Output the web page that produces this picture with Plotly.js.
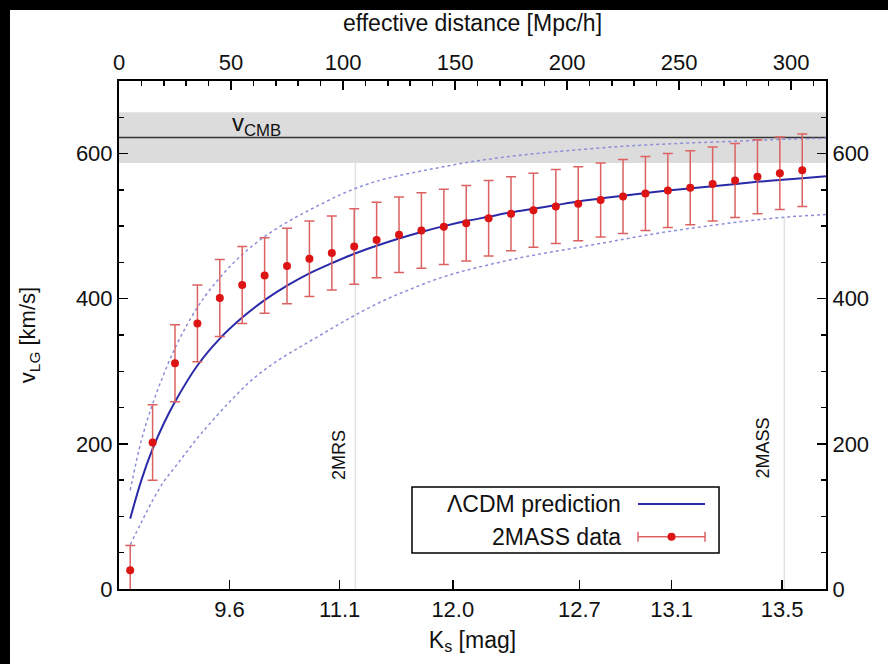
<!DOCTYPE html>
<html>
<head>
<meta charset="utf-8">
<script src="https://cdn.plot.ly/plotly-3.0.1.min.js"></script>
<style>
  html, body { margin: 0; padding: 0; background: #000; width: 888px; height: 664px; overflow: hidden; }
  #chart { position: absolute; left: 10px; top: 10px; width: 878px; height: 654px; background: #fff; }
</style>
</head>
<body>
<div id="chart"></div>
<script>
// ---- data (effective distance in Mpc/h on the x axis) ----
const distances = [5, 15, 25, 35, 45, 55, 65, 75, 85, 95, 105, 115, 125, 135, 145, 155,
                   165, 175, 185, 195, 205, 215, 225, 235, 245, 255, 265, 275, 285, 295, 305];
const vlg = [26, 202, 311, 366, 401, 419, 432, 445, 455, 463, 472, 481, 488, 494, 499, 504,
             511, 517, 522, 527, 531, 536, 541, 545, 549, 553, 558, 563, 568, 573, 577];
const vlgErr = [34, 52, 53, 53, 53, 53, 52, 52, 52, 51, 52, 52, 52, 52, 52, 52,
                52, 51, 51, 51, 51, 51, 51, 51, 51, 51, 51, 51, 51, 50, 50];

const modelDist = [5, 10, 15, 20, 25, 35, 45, 55, 65, 75, 85, 95, 105, 115, 125, 135, 145, 155,
                   165, 175, 185, 195, 205, 215, 225, 245, 265, 285, 305, 316];
const modelV = [97, 150, 193, 228, 258, 308, 345, 374, 398, 418, 435, 449, 462, 473, 483, 492, 500, 507,
                513, 519, 524, 529, 534, 538, 542, 549, 555, 561, 566, 569];

const upperDist = [5, 10, 15, 20, 25, 30, 35, 40, 50, 60, 70, 80, 90, 100, 110, 120, 140, 160,
                   180, 200, 225, 250, 275, 300, 316];
const upperV = [136, 205, 255, 296, 332, 362, 388, 410, 446, 474, 496, 514, 530, 545, 557, 566, 579, 590,
                598, 604, 610, 614, 617, 620, 621];

const lowerDist = [5, 10, 15, 20, 25, 30, 35, 40, 50, 60, 70, 80, 90, 100, 110, 120, 130, 140, 150, 160,
                   180, 200, 220, 240, 260, 280, 300, 316];
const lowerV = [61, 92, 122, 148, 168, 188, 208, 226, 260, 290, 313, 332, 350, 368, 385, 400, 413, 425, 435, 443,
                457, 468, 479, 490, 499, 507, 513, 516];

const ksTickLabels = ['9.6', '11.1', '12.0', '12.7', '13.1', '13.5'];
const ksTickDist = [49.3, 98.5, 149, 205.5, 246.7, 296];

const vCMB = 622;
const vCMBErr = 35;

const surveyNames = ['2MRS', '2MASS'];
const surveyDist = [105.5, 297];
const surveyLineTop = [587, 512];
const surveyLabelDist = [98.3, 287.6];
const surveyLabelV = [185, 194];

const legendLabels = ['\u039BCDM prediction', '2MASS data'];

// ---- colours ----
const cRed = '#dc1414';
const cErr = '#dc6262';
const cBlue = '#2a2aa8';
const cDot = '#8d8ed8';

const xRange = [0, 315.6];
const yRange = [0, 700];
const fnt = 'Liberation Sans, Arial, Helvetica, sans-serif';
const FS = 22;

const traces = [
  { x: upperDist, y: upperV, type: 'scatter', mode: 'lines', showlegend: false,
    line: { color: cDot, width: 1.5, dash: 'dot', shape: 'spline' }, hoverinfo: 'skip' },
  { x: lowerDist, y: lowerV, type: 'scatter', mode: 'lines', showlegend: false,
    line: { color: cDot, width: 1.5, dash: 'dot', shape: 'spline' }, hoverinfo: 'skip' },
  { x: modelDist, y: modelV, type: 'scatter', mode: 'lines', name: legendLabels[0], showlegend: false,
    line: { color: cBlue, width: 2, shape: 'spline' } },
  { x: distances, y: vlg, type: 'scatter', mode: 'markers', name: legendLabels[1], showlegend: false,
    marker: { color: cRed, size: 8 },
    error_y: { type: 'data', array: vlgErr, visible: true, color: cErr, thickness: 1.5, width: 5 } },
  { x: [], y: [], xaxis: 'x2', yaxis: 'y2', type: 'scatter', mode: 'markers', showlegend: false }
];

const axisCommon = {
  showline: true, linecolor: '#000', linewidth: 2, mirror: false,
  ticks: 'inside', ticklen: 9, tickwidth: 1.5, tickcolor: '#000',
  showgrid: false, zeroline: false,
  tickfont: { family: fnt, size: FS, color: '#111' }
};

// shapes: CMB band + line, survey limit lines
const shapes = [
  { type: 'rect', xref: 'x domain', yref: 'y', x0: 0, x1: 1, y0: vCMB - vCMBErr, y1: vCMB + vCMBErr,
    fillcolor: '#dcdcdc', line: { width: 0 }, layer: 'below' },
  { type: 'line', xref: 'x domain', yref: 'y', x0: 0, x1: 1, y0: vCMB, y1: vCMB,
    line: { color: '#333', width: 1.5 }, layer: 'below' }
];
surveyDist.forEach((d, i) => {
  shapes.push({ type: 'line', xref: 'x', yref: 'y', x0: d, x1: d, y0: 0, y1: surveyLineTop[i],
    line: { color: '#e2e2e2', width: 1.5 }, layer: 'below' });
});

// custom legend (text left, sample right, as in the original)
const lgX0 = 0.4144, lgX1 = 0.8487, lgY0 = 0.0709, lgY1 = 0.2008;
const row1 = 0.1673, row2 = 0.103;
const sX0 = 0.7341, sX1 = 0.8289, sMid = (sX0 + sX1) / 2;
shapes.push(
  { type: 'rect', xref: 'paper', yref: 'paper', x0: lgX0, x1: lgX1, y0: lgY0, y1: lgY1,
    fillcolor: '#fff', line: { color: '#000', width: 1.5 } },
  { type: 'line', xref: 'paper', yref: 'paper', x0: sX0, x1: sX1, y0: row1, y1: row1,
    line: { color: cBlue, width: 2 } },
  { type: 'line', xref: 'paper', yref: 'paper', x0: sX0, x1: sX1, y0: row2, y1: row2,
    line: { color: cErr, width: 1.5 } },
  { type: 'line', xref: 'paper', yref: 'paper', x0: sX0, x1: sX0, y0: row2 - 0.0098, y1: row2 + 0.0098,
    line: { color: cErr, width: 1.5 } },
  { type: 'line', xref: 'paper', yref: 'paper', x0: sX1, x1: sX1, y0: row2 - 0.0098, y1: row2 + 0.0098,
    line: { color: cErr, width: 1.5 } },
  { type: 'circle', xref: 'paper', yref: 'paper', x0: sMid - 0.0057, x1: sMid + 0.0057,
    y0: row2 - 0.0079, y1: row2 + 0.0079, fillcolor: cRed, line: { color: cRed, width: 0 } }
);

const annotations = [
  { xref: 'x', yref: 'y', x: 61.6, y: 640, yanchor: 'middle', text: 'v<sub>CMB</sub>', showarrow: false,
    font: { family: fnt, size: 24, color: '#111' } },
  { xref: 'paper', yref: 'paper', x: 0.7129, y: row1, xanchor: 'right', yanchor: 'middle',
    text: legendLabels[0], showarrow: false, font: { family: fnt, size: 23, color: '#111' } },
  { xref: 'paper', yref: 'paper', x: 0.7129, y: row2, xanchor: 'right', yanchor: 'middle',
    text: legendLabels[1], showarrow: false, font: { family: fnt, size: 23, color: '#111' } }
];
surveyNames.forEach((n, i) => {
  annotations.push({ xref: 'x', yref: 'y', x: surveyLabelDist[i], y: surveyLabelV[i], text: n,
    textangle: -90, showarrow: false, font: { family: fnt, size: 18, color: '#111' } });
});

const layout = {
  width: 878, height: 654,
  margin: { l: 109, r: 62, t: 71, b: 75 },
  paper_bgcolor: '#fff', plot_bgcolor: '#fff',
  font: { family: fnt, color: '#111' },
  showlegend: false,
  xaxis: Object.assign({}, axisCommon, {
    range: xRange, tickmode: 'array', tickvals: ksTickDist, ticktext: ksTickLabels,
    title: { text: 'K<sub>s</sub> [mag]', font: { family: fnt, size: 23, color: '#111' }, standoff: 10 }
  }),
  xaxis2: Object.assign({}, axisCommon, {
    overlaying: 'x', side: 'top', anchor: 'y2', range: xRange,
    tickmode: 'linear', tick0: 0, dtick: 50,
    minor: { dtick: 10, ticks: 'inside', ticklen: 5, tickwidth: 1.5, tickcolor: '#000' },
    title: { text: 'effective distance [Mpc/h]', font: { family: fnt, size: 23, color: '#111' }, standoff: 19 }
  }),
  yaxis: Object.assign({}, axisCommon, {
    range: yRange, tickmode: 'linear', tick0: 0, dtick: 200,
    minor: { dtick: 50, ticks: 'inside', ticklen: 5, tickwidth: 1.5, tickcolor: '#000' },
    title: { text: 'v<sub>LG</sub> [km/s]', font: { family: fnt, size: 22, color: '#111' }, standoff: 34 }
  }),
  yaxis2: Object.assign({}, axisCommon, {
    overlaying: 'y', side: 'right', anchor: 'x2', range: yRange, tickmode: 'linear', tick0: 0, dtick: 200,
    minor: { dtick: 50, ticks: 'inside', ticklen: 5, tickwidth: 1.5, tickcolor: '#000' }
  }),
  shapes: shapes,
  annotations: annotations
};

Plotly.newPlot('chart', traces, layout, { displayModeBar: false, staticPlot: true });
</script>
</body>
</html>
